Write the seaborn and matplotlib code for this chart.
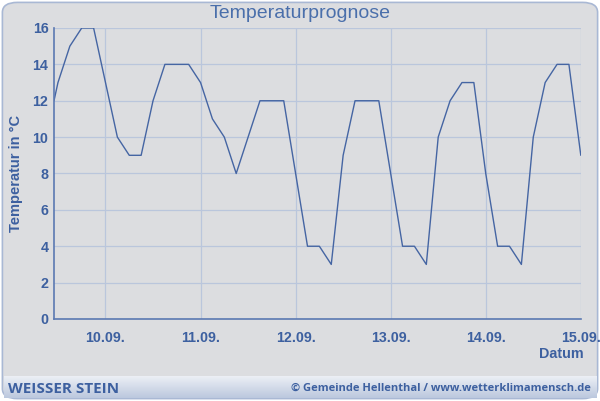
import numpy as np
import pandas as pd
import seaborn as sns
import matplotlib.pyplot as plt
from matplotlib.patches import FancyBboxPatch

# Stunden relativ zu 10.09. 00:00
hours = [-13, -12, -9, -6, -3, 0, 3, 6, 9, 12, 15, 18, 21, 24, 27, 30, 33, 36,
         39, 42, 45, 48, 51, 54, 57, 60, 63, 66, 69, 72, 75, 78, 81, 84, 87, 90,
         93, 96, 99, 102, 105, 108, 111, 114, 117, 120]
temps = [12, 13, 15, 16, 16, 13, 10, 9, 9, 12, 14, 14, 14, 13, 11, 10, 8, 10,
         12, 12, 12, 8, 4, 4, 3, 9, 12, 12, 12, 8, 4, 4, 3, 10, 12, 13, 13, 8,
         4, 4, 3, 10, 13, 14, 14, 9]
day_ticks = [0, 24, 48, 72, 96, 120]
day_labels = ["10.09.", "11.09.", "12.09.", "13.09.", "14.09.", "15.09."]
y_ticks = [0, 2, 4, 6, 8, 10, 12, 14, 16]

df = pd.DataFrame({"Stunde": hours, "Temperatur": temps})

sns.set_style("white")
plt.rcParams["font.family"] = ["Liberation Sans", "DejaVu Sans"]

text_col = "#3d60a0"
line_col = "#4565a3"
grid_col = "#bac6dc"

fig = plt.figure(figsize=(6, 4.01), dpi=100)
fig.patch.set_facecolor("white")

# Hintergrund mit abgerundetem Rahmen
frame = FancyBboxPatch((0.004, 0.006), 0.992, 0.988, transform=fig.transFigure,
                       boxstyle="round,pad=0,rounding_size=0.025",
                       facecolor="#dcdde0", edgecolor="#a9b8d4", lw=1.2, zorder=0)
fig.patches.append(frame)

bg = fig.add_axes([0.006, 0.06, 0.988, 0.15], zorder=0)
grad = np.linspace(0, 1, 50).reshape(-1, 1)
bg.imshow(grad, aspect="auto", cmap=sns.blend_palette(["#dcdde0", "#e9eaed"], as_cmap=True),
          extent=[0, 1, 0, 1], origin="upper")
bg.axis("off")

# Fußleiste
foot = fig.add_axes([0.006, 0.008, 0.988, 0.055], zorder=1)
grad2 = np.linspace(0, 1, 50).reshape(-1, 1)
foot.imshow(grad2, aspect="auto", cmap=sns.blend_palette(["#eef1f6", "#bcc8de"], as_cmap=True),
            extent=[0, 1, 0, 1])
foot.axis("off")
fig.text(0.013, 0.031, "WEISSER STEIN", fontsize=11, fontweight="bold",
         color=text_col, va="center", ha="left", family=["Open Sans", "DejaVu Sans"])
fig.text(0.985, 0.031, "© Gemeinde Hellenthal / www.wetterklimamensch.de", fontsize=8.0,
         fontweight="bold", color=text_col, va="center", ha="right",
         family=["Open Sans", "DejaVu Sans"])

ax = fig.add_axes([0.09, 0.2045, 0.878, 0.7257], zorder=2)
ax.set_facecolor("none")
sns.lineplot(data=df, x="Stunde", y="Temperatur", ax=ax, color=line_col, lw=1.0)

ax.set_xlim(-13, 120)
ax.set_ylim(0, 16)
ax.set_xticks(day_ticks)
ax.set_xticklabels(day_labels)
ax.set_yticks(y_ticks)
ax.grid(True, color=grid_col, lw=0.9)
ax.tick_params(length=0, labelsize=10.3, labelcolor=text_col)
ax.tick_params(axis="y", pad=4)
ax.tick_params(axis="x", pad=9)
for lab in ax.get_xticklabels() + ax.get_yticklabels():
    lab.set_fontweight("bold")

for s in ["top", "right"]:
    ax.spines[s].set_visible(False)
for s in ["left", "bottom"]:
    ax.spines[s].set_color("#5b79b2")
    ax.spines[s].set_linewidth(1.2)

ax.set_xlabel("")
ax.set_ylabel("Temperatur in °C", fontsize=10.5, fontweight="bold", color=text_col)
ax.yaxis.set_label_coords(-0.058, 0.5)

fig.text(0.935, 0.118, "Datum", fontsize=10.3, fontweight="bold", color=text_col,
         ha="center", va="center")
fig.text(0.5, 0.966, "Temperaturprognose", fontsize=14, color="#4a6fab",
         ha="center", va="center")

plt.savefig("out.png", dpi=100)
